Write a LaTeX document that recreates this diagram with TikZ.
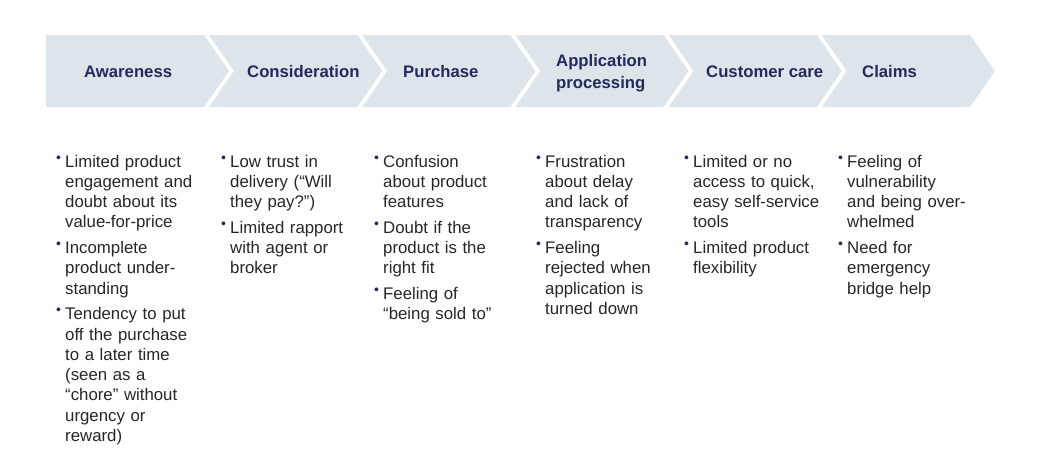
\documentclass[tikz,border=0pt]{standalone}
\usepackage{fontspec}
\setmainfont{Liberation Sans}

\definecolor{stagefill}{HTML}{DDE4EA}
\definecolor{stagetext}{HTML}{222A5E}
\definecolor{paintext}{HTML}{262626}

% small raised bullet hanging left of the text
\newcommand{\painbullet}{\leavevmode\llap{\textcolor{stagetext}{\fontsize{14}{14}\selectfont\raisebox{4.8pt}{\char"2022}}\hspace{4.2pt}}}
\newcommand{\painitem}{\par\vspace{5.3pt}\painbullet}

\begin{document}
\begin{tikzpicture}[x=1pt,y=-1pt,
  stage/.style={fill=stagefill},
  stagelabel/.style={anchor=base west,inner sep=0pt,align=left,text=stagetext,font=\fontsize{16.7}{21.5}\selectfont\bfseries},
  pains/.style={anchor=base west,inner sep=0pt,text width=150pt,align=left,text=paintext,font=\fontsize{16.8}{20.3}\selectfont}]
  \useasboundingbox (0,0) rectangle (1056,463);

  % stages
  \fill[stage] (46,35) -- (204,35) -- (229,71) -- (204,107) -- (46,107) -- cycle;
  \fill[stage] (209,35) -- (357.2,35) -- (382.2,71) -- (357.2,107) -- (209,107) -- (234,71) -- cycle;
  \fill[stage] (362.2,35) -- (510.4,35) -- (535.4,71) -- (510.4,107) -- (362.2,107) -- (387.2,71) -- cycle;
  \fill[stage] (515.4,35) -- (663.6,35) -- (688.6,71) -- (663.6,107) -- (515.4,107) -- (540.4,71) -- cycle;
  \fill[stage] (668.6,35) -- (816.8,35) -- (841.8,71) -- (816.8,107) -- (668.6,107) -- (693.6,71) -- cycle;
  \fill[stage] (821.8,35) -- (970,35) -- (995,71) -- (970,107) -- (821.8,107) -- (846.8,71) -- cycle;

  \node[stagelabel] (awareness) at (84,77.5) {Awareness};
  \node[stagelabel] (consideration) at (247,77.5) {Consideration};
  \node[stagelabel] (purchase) at (403,77.5) {Purchase};
  \node[stagelabel] (application) at (556,88.3) {Application\\processing};
  \node[stagelabel] (care) at (706,77.5) {Customer care};
  \node[stagelabel] (claims) at (862,77.5) {Claims};

  % pain points
  \node[pains] (awarenesspains) at (65,167) {\painbullet Limited product\\engagement and\\doubt about its\\value-for-price
    \painitem Incomplete\\product under-\\standing
    \painitem Tendency to put\\off the purchase\\to a later time\\(seen as a\\“chore” without\\urgency or\\reward)};
  \node[pains] (considerationpains) at (230,167) {\painbullet Low trust in\\delivery (“Will\\they pay?”)
    \painitem Limited rapport\\with agent or\\broker};
  \node[pains] (purchasepains) at (383,167) {\painbullet Confusion\\about product\\features
    \painitem Doubt if the\\product is the\\right fit
    \painitem Feeling of\\“being sold to”};
  \node[pains] (applicationpains) at (545,167) {\painbullet Frustration\\about delay\\and lack of\\transparency
    \painitem Feeling\\rejected when\\application is\\turned down};
  \node[pains] (carepains) at (693,167) {\painbullet Limited or no\\access to quick,\\easy self-service\\tools
    \painitem Limited product\\flexibility};
  \node[pains] (claimspains) at (847,167) {\painbullet Feeling of\\vulnerability\\and being over-\\whelmed
    \painitem Need for\\emergency\\bridge help};
\end{tikzpicture}
\end{document}
